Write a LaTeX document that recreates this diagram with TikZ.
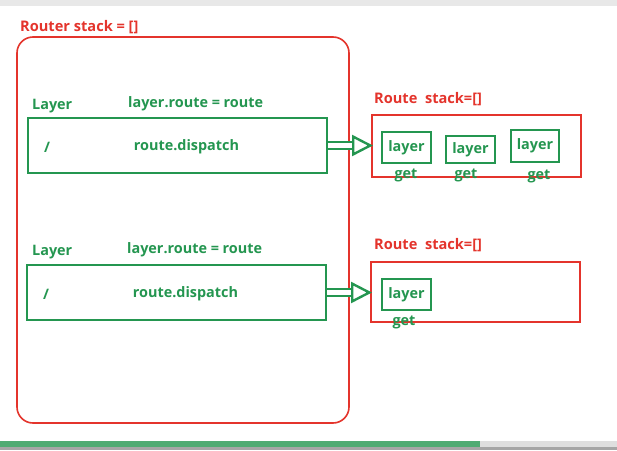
\documentclass[tikz,border=0pt]{standalone}
\usepackage{fontspec}
\setmainfont{Open Sans}
\usetikzlibrary{positioning,calc,arrows.meta}

\definecolor{stackred}{RGB}{228,52,44}
\definecolor{layergreen}{RGB}{36,150,80}

\begin{document}
\begin{tikzpicture}[x=1pt,y=-1pt]
\tikzset{
	redlabel/.style={text=stackred, font=\bfseries\fontsize{14.6}{16}\selectfont, inner sep=0pt, anchor=west},
	greenlabel/.style={text=layergreen, font=\bfseries\fontsize{14.4}{16}\selectfont, inner sep=0pt},
	layerbox/.style={draw=layergreen, line width=2.6pt, inner sep=0pt},
	stackbox/.style={draw=stackred, line width=2pt, inner sep=0pt},
	hollow/.style={draw=layergreen, line width=2.4pt, double=white, double distance=5pt,
		-{Triangle[open, length=21pt, width=21pt]}, shorten >=-2pt}
}

\def\rowA{147}%px
\def\rowB{294}

% frame of the screenshot
\fill[white] (0,0) rectangle (617,450);
\fill[gray!18] (0,0) rectangle (617,6);
\fill[layergreen!80] (0,441) rectangle (480,447);
\fill[gray!25] (480,441) rectangle (617,447);
\fill[gray!70] (0,447) rectangle (617,450);

% router
\node[redlabel] (routerlbl) at (20,27) {Router stack = []};
\node[draw=stackred, line width=1.6pt, rounded corners=16pt, minimum width=332, minimum height=386] (router) at (183,230) {};

% first layer
\node[greenlabel, anchor=west] (layerA) at (32,106) {Layer};
\node[greenlabel, anchor=west] (assignA) at (128,104) {layer.route = route};
\node[layerbox, minimum width=299, minimum height=55] (lay1) at (177.5,145.5) {};
\node[greenlabel] (pathA) at (47,\rowA) {/};
\node[greenlabel] (dispA) at (186.5,\rowA) {route.dispatch};

% second layer
\node[greenlabel, anchor=west] (layerB) at (32,252) {Layer};
\node[greenlabel, anchor=west] (assignB) at (127,250) {layer.route = route};
\node[layerbox, minimum width=299, minimum height=55] (lay2) at (176.5,292.5) {};
\node[greenlabel] (pathB) at (46,\rowB) {/};
\node[greenlabel] (dispB) at (185.5,\rowB) {route.dispatch};

% route stacks
\node[redlabel] (routeA) at (374,99) {Route\ \ stack=[]};
\node[stackbox, minimum width=209, minimum height=62] (rs1) at (476.5,146) {};
\node[redlabel] (routeB) at (374,245) {Route\ \ stack=[]};
\node[stackbox, minimum width=209, minimum height=60] (rs2) at (475.5,292) {};

% layers of the route stacks
\node[layerbox, greenlabel, minimum width=49, minimum height=31] (l11) at (406.5,147.5) {layer};
\node[layerbox, greenlabel, minimum width=49, minimum height=27] (l12) at (470.5,149.5) {layer};
\node[layerbox, greenlabel, minimum width=48, minimum height=32] (l13) at (535,146) {layer};
\node[layerbox, greenlabel, minimum width=49, minimum height=31] (l21) at (406.5,294.5) {layer};

\node[greenlabel] (g11) at (406,175) {get};
\node[greenlabel] (g12) at (466,175) {get};
\node[greenlabel] (g13) at (539,176) {get};
\node[greenlabel] (g21) at (404,322) {get};

% links
\draw[hollow] (lay1.east) -- (lay1.east -| rs1.west);
\draw[hollow] (lay2.east) -- (lay2.east -| rs2.west);

\end{tikzpicture}
\end{document}
